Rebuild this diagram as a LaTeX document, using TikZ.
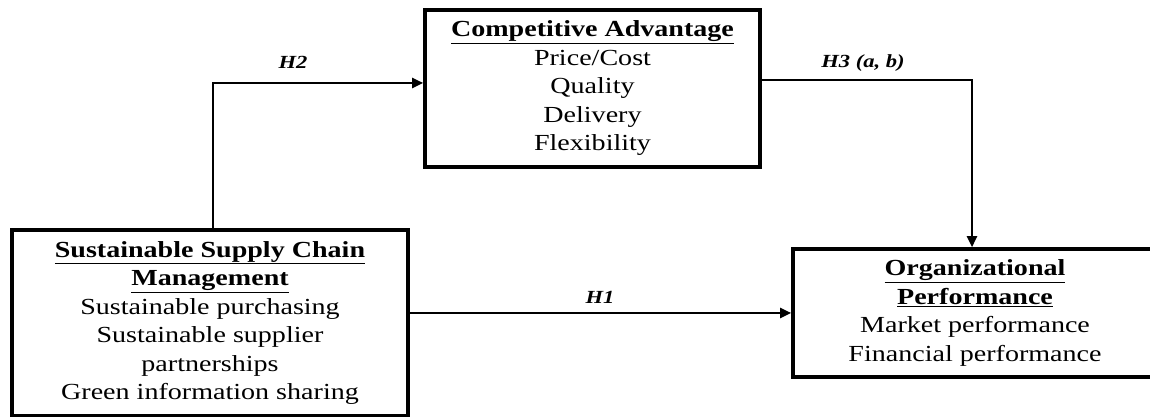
\documentclass[tikz,border=0pt]{standalone}
\usepackage{fontspec}
\setmainfont[FakeStretch=1.22]{Liberation Serif}
\usetikzlibrary{arrows.meta}
\begin{document}
\begin{tikzpicture}[x=1pt,y=1pt,
  box/.style={draw, line width=3.6pt, rectangle, align=center, inner sep=0pt,
    font=\fontsize{23}{28.5}\selectfont},
  conn/.style={line width=2.4pt, -{Triangle[length=11pt,width=10pt]}},
  hlab/.style={font=\fontsize{18.5}{20}\selectfont\bfseries\itshape}]
\useasboundingbox (0,0) rectangle (1150,417);
\node[box, minimum width=396pt, minimum height=186pt] (L) at (210,94)
  {\textbf{\underline{Sustainable Supply Chain}}\\
   \textbf{\underline{Management}}\\
   Sustainable purchasing\\
   Sustainable supplier\\
   partnerships\\
   Green information sharing};
\node[box, minimum width=335pt, minimum height=157pt] (T) at (592.5,328.5)
  {\textbf{\underline{Competitive Advantage}}\\
   Price/Cost\\
   Quality\\
   Delivery\\
   Flexibility};
\node[box, minimum width=364pt, minimum height=128pt] (R) at (975,104)
  {\textbf{\underline{Organizational}}\\
   \textbf{\underline{Performance}}\\
   Market performance\\
   Financial performance};
\draw[conn] ([xshift=3pt]L.north) |- ([yshift=5.5pt]T.west);
\draw[conn] ([yshift=8.5pt]T.east) -| ([xshift=-3pt]R.north);
\draw[conn] ([yshift=10pt]L.east) -- (R.west);
\node[hlab] (h2) at (293,355) {H2};
\node[hlab] (h3) at (863,354) {H3 (a, b)};
\node[hlab] (h1) at (600,120) {H1};
\end{tikzpicture}
\end{document}
